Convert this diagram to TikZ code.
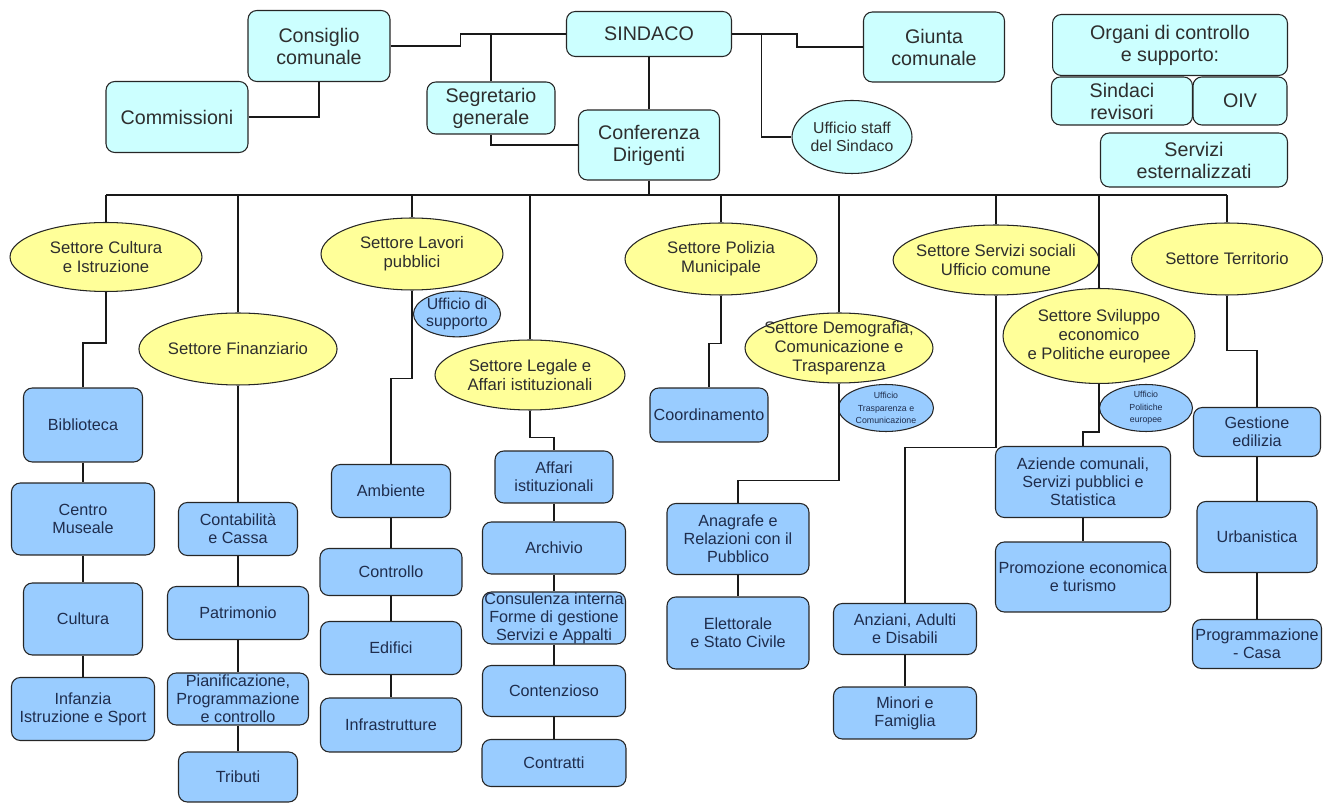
\documentclass[tikz,border=0pt]{standalone}
\usepackage{fontspec}
\setmainfont{Liberation Sans}
\usepackage{xcolor}
\usepackage{tikz}
\usetikzlibrary{shapes.geometric}

\definecolor{ciano}{HTML}{CCFFFF}
\definecolor{azzurro}{HTML}{99CCFF}
\definecolor{giallo}{HTML}{FFFF99}
\definecolor{testo}{HTML}{2E2E2E}
\definecolor{blu}{HTML}{1F2D4D}

\begin{document}
\begin{tikzpicture}[
    x=0.02cm, y=-0.02cm,
    organo/.style={rectangle, rounded corners=5pt, draw=black!85, line width=0.6pt, fill=ciano, align=center, inner sep=1pt, text=testo, font=\fontsize{11.2}{12.5}\selectfont},
    settore/.style={ellipse, draw=black!85, line width=0.6pt, fill=giallo, align=center, inner sep=0pt, text=testo, font=\fontsize{9.5}{10.8}\selectfont},
    ufficio/.style={rectangle, rounded corners=5pt, draw=black!85, line width=0.6pt, fill=azzurro, align=center, inner sep=1pt, text=blu, font=\fontsize{9.2}{10.3}\selectfont},
    uffell/.style={ellipse, draw=black!85, line width=0.6pt, fill=azzurro, align=center, inner sep=0pt, text=blu, font=\fontsize{9}{10}\selectfont},
    minuto/.style={uffell, inner sep=-1pt, font=\fontsize{5}{7}\selectfont},
    wire/.style={line width=0.8pt, black!90}
]
\useasboundingbox (0,0) rectangle (1323,803);

% Organi di governo
\node[organo, minimum width=2.84cm, minimum height=1.42cm] (consiglio) at (319,46) {Consiglio\\comunale};
\node[organo, minimum width=2.84cm, minimum height=1.42cm] (commissioni) at (177,117) {Commissioni};
\node[organo, minimum width=3.30cm, minimum height=0.90cm] (sindaco) at (649,34) {SINDACO};
\node[organo, minimum width=2.56cm, minimum height=1.04cm] (segretario) at (491,108) {Segretario\\generale};
\node[organo, minimum width=2.82cm, minimum height=1.40cm] (conferenza) at (649,145) {Conferenza\\Dirigenti};
\node[organo, minimum width=2.82cm, minimum height=1.40cm] (giunta) at (934,47) {Giunta\\comunale};
\node[organo, ellipse, rounded corners=0pt, inner sep=0pt, font=\fontsize{9}{10.3}\selectfont, minimum width=2.40cm, minimum height=1.46cm] (staff) at (852,137) {Ufficio staff\\del Sindaco};

% Organi di controllo
\node[organo, minimum width=4.70cm, minimum height=1.22cm] (organi) at (1170,45) {Organi di controllo\\e supporto:};
\node[organo, minimum width=2.82cm, minimum height=0.96cm] (revisori) at (1122,101) {Sindaci\\revisori};
\node[organo, minimum width=1.88cm, minimum height=0.96cm] (oiv) at (1240,101) {OIV};
\node[organo, minimum width=3.74cm, minimum height=1.08cm] (esterni) at (1194,160) {Servizi\\esternalizzati};

% Settori
\node[settore, minimum width=3.84cm, minimum height=1.38cm] (cultura) at (106,257) {Settore Cultura\\e Istruzione};
\node[settore, minimum width=3.80cm, minimum height=1.44cm] (finanziario) at (238,349) {Settore Finanziario};
\node[settore, minimum width=3.64cm, minimum height=1.44cm] (lavori) at (412,254) {Settore Lavori\\pubblici};
\node[uffell, minimum width=1.74cm, minimum height=0.90cm] (supporto) at (457,314) {Ufficio di\\supporto};
\node[settore, minimum width=3.80cm, minimum height=1.40cm] (legale) at (530,375) {Settore Legale e\\Affari istituzionali};
\node[settore, minimum width=3.84cm, minimum height=1.44cm] (polizia) at (721,259) {Settore Polizia\\Municipale};
\node[settore, inner sep=-5pt, minimum width=3.76cm, minimum height=1.40cm] (demografia) at (839,348) {Settore Demografia,\\Comunicazione e\\Trasparenza};
\node[minuto, minimum width=1.90cm, minimum height=0.94cm] (trasparenza) at (886,408) {Ufficio\\Trasparenza e\\Comunicazione};
\node[settore, inner sep=-4pt, minimum width=3.84cm, minimum height=1.40cm] (sociali) at (996,260) {Settore Servizi sociali\\Ufficio comune};
\node[settore, inner sep=-3pt, minimum width=3.84cm, minimum height=1.90cm] (sviluppo) at (1099,336) {Settore Sviluppo\\economico\\e Politiche europee};
\node[minuto, minimum width=1.86cm, minimum height=0.94cm] (politiche) at (1146,408) {Ufficio\\Politiche\\europee};
\node[settore, minimum width=3.82cm, minimum height=1.44cm] (territorio) at (1227,259) {Settore Territorio};

% Uffici
\node[ufficio, minimum width=2.38cm, minimum height=1.48cm] (biblioteca) at (83,425) {Biblioteca};
\node[ufficio, minimum width=2.86cm, minimum height=1.44cm] (museale) at (83,519) {Centro\\Museale};
\node[ufficio, minimum width=2.38cm, minimum height=1.44cm] (cultbox) at (83,619) {Cultura};
\node[ufficio, minimum width=2.86cm, minimum height=1.26cm] (infanzia) at (83,709) {Infanzia\\Istruzione e Sport};

\node[ufficio, minimum width=2.38cm, minimum height=1.06cm] (contabilita) at (238,529) {Contabilità\\e Cassa};
\node[ufficio, minimum width=2.82cm, minimum height=1.06cm] (patrimonio) at (238,613) {Patrimonio};
\node[ufficio, inner ysep=0pt, minimum width=2.82cm, minimum height=1.04cm] (pianificazione) at (238,699) {Pianificazione,\\Programmazione\\e controllo};
\node[ufficio, minimum width=2.38cm, minimum height=1.00cm] (tributi) at (238,777) {Tributi};

\node[ufficio, minimum width=2.38cm, minimum height=1.06cm] (ambiente) at (391,491) {Ambiente};
\node[ufficio, minimum width=2.84cm, minimum height=0.94cm] (controllo) at (391,572) {Controllo};
\node[ufficio, minimum width=2.82cm, minimum height=1.06cm] (edifici) at (391,648) {Edifici};
\node[ufficio, minimum width=2.82cm, minimum height=1.08cm] (infrastrutture) at (391,725) {Infrastrutture};

\node[ufficio, minimum width=2.36cm, minimum height=1.04cm] (affari) at (554,477) {Affari\\istituzionali};
\node[ufficio, minimum width=2.86cm, minimum height=1.04cm] (archivio) at (554,548) {Archivio};
\node[ufficio, inner sep=0pt, minimum width=2.86cm, minimum height=1.04cm] (consulenza) at (554,618) {Consulenza interna\\Forme di gestione\\Servizi e Appalti};
\node[ufficio, minimum width=2.86cm, minimum height=1.02cm] (contenzioso) at (554,691) {Contenzioso};
\node[ufficio, minimum width=2.88cm, minimum height=0.94cm] (contratti) at (554,763) {Contratti};

\node[ufficio, minimum width=2.36cm, minimum height=1.08cm] (coordinamento) at (709,415) {Coordinamento};

\node[ufficio, minimum width=2.84cm, minimum height=1.42cm] (anagrafe) at (738,539) {Anagrafe e\\Relazioni con il\\Pubblico};
\node[ufficio, minimum width=2.84cm, minimum height=1.44cm] (elettorale) at (738,633) {Elettorale\\e Stato Civile};

\node[ufficio, minimum width=2.86cm, minimum height=1.02cm] (anziani) at (905,629) {Anziani, Adulti\\e Disabili};
\node[ufficio, minimum width=2.86cm, minimum height=1.04cm] (minori) at (905,713) {Minori e\\Famiglia};

\node[ufficio, minimum width=3.50cm, minimum height=1.42cm] (aziende) at (1083,482) {Aziende comunali,\\Servizi pubblici e\\Statistica};
\node[ufficio, inner sep=0pt, minimum width=3.50cm, minimum height=1.40cm] (promozione) at (1083,577) {Promozione economica\\e turismo};

\node[ufficio, minimum width=2.54cm, minimum height=0.98cm] (gestione) at (1257,432) {Gestione\\edilizia};
\node[ufficio, minimum width=2.40cm, minimum height=1.42cm] (urbanistica) at (1257,537) {Urbanistica};
\node[ufficio, inner xsep=0pt, minimum width=2.58cm, minimum height=0.98cm] (programmazione) at (1257,644) {Programmazione\\- Casa};

% Collegamenti vertice
\draw[wire] (commissioni.east) -| (consiglio.south);
\draw[wire] (consiglio.east) -- ++(70,0) |- (sindaco.west);
\draw[wire] (segretario.north) -- (segretario.north |- sindaco.west);
\draw[wire] (segretario.south) |- (conferenza.west);
\draw[wire] (sindaco.south) -- (conferenza.north);
\draw[wire] (sindaco.east) -- ++(65,0) |- (giunta.west);
\draw[wire] (staff.west) -- ++(-30,0) |- (sindaco.east);

% Linea dei settori
\coordinate (busL) at (106,195);
\coordinate (busR) at (1227,195);
\draw[wire] (conferenza.south) -- (conferenza.south |- busL);
\draw[wire] (busL) -- (busR);
\foreach \s in {cultura, finanziario, lavori, legale, polizia, demografia, sociali, sviluppo, territorio}
    \draw[wire] (\s.north) -- (\s.north |- busL);

% Settori -> uffici
\draw[wire] (cultura.south) -- ++(0,51) -| (biblioteca.north);
\draw[wire] (finanziario.south) -- (contabilita.north);
\draw[wire] (lavori.south) -- ++(0,88) -| (ambiente.north);
\draw[wire] (legale.south) -- ++(0,27) -| (affari.north);
\draw[wire] (polizia.south) -- ++(0,48) -| (coordinamento.north);
\draw[wire] (demografia.south) -- ++(0,97) -| (anagrafe.north);
\draw[wire] (sociali.south) -- ++(0,152) -| (anziani.north);
\draw[wire] (sviluppo.south) -- ++(0,48) -| (aziende.north);
\draw[wire] (territorio.south) -- ++(0,55) -| (gestione.north);

\foreach \a/\b in {biblioteca/museale, museale/cultbox, cultbox/infanzia,
    contabilita/patrimonio, patrimonio/pianificazione, pianificazione/tributi,
    ambiente/controllo, controllo/edifici, edifici/infrastrutture,
    affari/archivio, archivio/consulenza, consulenza/contenzioso, contenzioso/contratti,
    anagrafe/elettorale, anziani/minori, aziende/promozione,
    gestione/urbanistica, urbanistica/programmazione}
    \draw[wire] (\a) -- (\b);

\end{tikzpicture}
\end{document}
